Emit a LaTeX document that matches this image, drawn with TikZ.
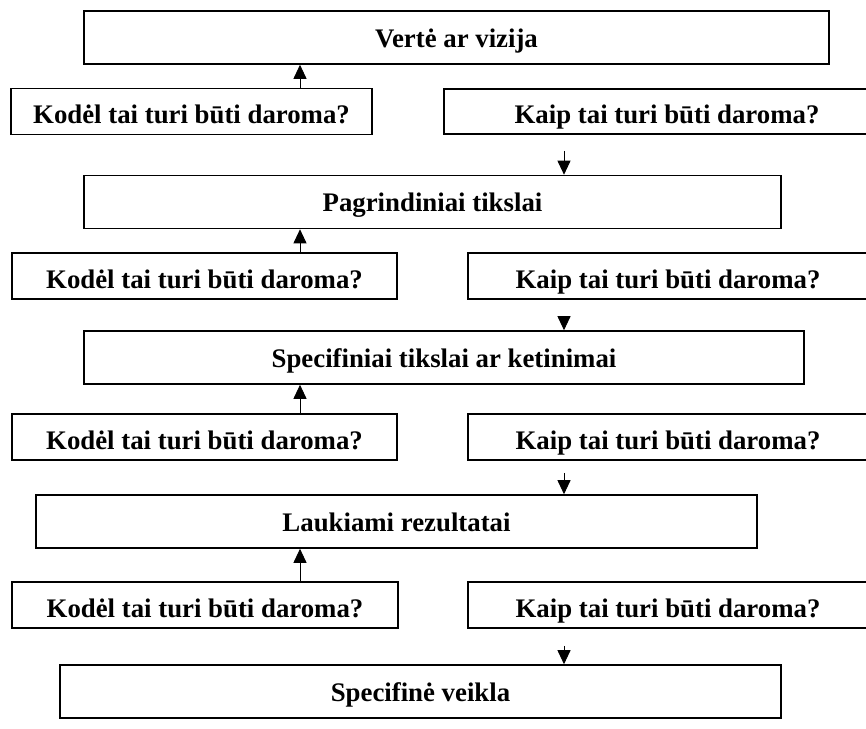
\documentclass[tikz,border=0pt]{standalone}
\usepackage{fontspec}
\setmainfont{Liberation Serif}
\usetikzlibrary{arrows.meta}

\begin{document}
\begin{tikzpicture}[
            x = 1pt, y = -1pt,
            every node/.style = {draw, line width = 1.6pt, inner sep = 0pt,
                                 font = \fontsize{26.8}{30}\selectfont\bfseries},
            goal/.style = {minimum height = 53pt, text height = 19.3pt, text depth = 0pt},
            question/.style = {minimum height = 46pt, text height = 24pt, text depth = 0pt},
            link/.style = {line width = 0.9pt, -{Triangle[width = 13pt, length = 14pt]}}
            ]
            \useasboundingbox (0,0) rectangle (866,728);
            \coordinate (up) at (300,0);
            \coordinate (down) at (564,0);

            \node[goal, minimum width = 745pt] (lvl1) at (456.5,37.5) {Vertė ar vizija};
            \node[question, minimum width = 361pt] (why1) at (191.5,111.5) {Kodėl tai turi būti daroma?};
            \node[question, minimum width = 446pt, minimum height = 45pt] (how1) at (667,111.5) {Kaip tai turi būti daroma?};

            \node[goal, minimum width = 697pt] (lvl2) at (432.5,202) {Pagrindiniai tikslai};
            \node[question, minimum width = 385pt] (why2) at (204.5,276) {Kodėl tai turi būti daroma?};
            \node[question, minimum width = 400pt] (how2) at (668,276) {Kaip tai turi būti daroma?};

            \node[goal, minimum width = 720pt] (lvl3) at (444,357.5) {Specifiniai tikslai ar ketinimai};
            \node[question, minimum width = 385pt] (why3) at (204.5,437) {Kodėl tai turi būti daroma?};
            \node[question, minimum width = 400pt] (how3) at (668,437) {Kaip tai turi būti daroma?};

            \node[goal, minimum width = 721pt] (lvl4) at (396.5,521.5) {Laukiami rezultatai};
            \node[question, minimum width = 386pt] (why4) at (205,605) {Kodėl tai turi būti daroma?};
            \node[question, minimum width = 400pt] (how4) at (668,605) {Kaip tai turi būti daroma?};

            \node[goal, minimum width = 721pt] (lvl5) at (420.5,691.5) {Specifinė veikla};

            % kodel: upward, kaip: downward
            \draw[link] (why1.north -| up) -- (lvl1.south -| up);
            \draw[link] (why2.north -| up) -- (lvl2.south -| up);
            \draw[link] (why3.north -| up) -- (lvl3.south -| up);
            \draw[link] (why4.north -| up) -- (lvl4.south -| up);
            \draw[link] ([yshift = -16pt]how1.south -| down) -- (lvl2.north -| down);
            \draw[link] ([yshift = -19pt]how2.south -| down) -- (lvl3.north -| down);
            \draw[link] ([yshift = -12pt]how3.south -| down) -- (lvl4.north -| down);
            \draw[link] ([yshift = -17pt]how4.south -| down) -- (lvl5.north -| down);
          \end{tikzpicture}
\end{document}
